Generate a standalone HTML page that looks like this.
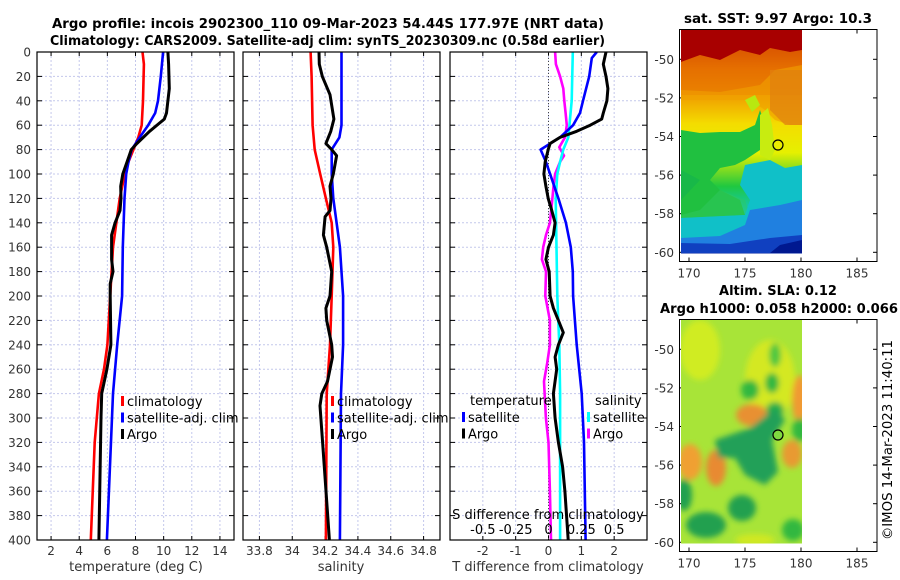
<!DOCTYPE html>
<html><head><meta charset="utf-8"><style>
html,body{margin:0;padding:0;background:#fff}
svg{display:block;font-family:"DejaVu Sans","Liberation Sans",sans-serif}
</style></head><body>
<svg id="s" width="900" height="580" viewBox="0 0 900 580" xmlns="http://www.w3.org/2000/svg">
<defs>
<filter id="blur4" x="-20%" y="-20%" width="140%" height="140%"><feGaussianBlur stdDeviation="3"/></filter>
<clipPath id="clipTop"><rect x="681" y="29.5" width="121" height="224"/></clipPath>
<clipPath id="clipBot"><rect x="681" y="319.5" width="121" height="224"/></clipPath>
<linearGradient id="sstg" x1="0" y1="0" x2="0" y2="1">
<stop offset="0" stop-color="#a80000"/><stop offset="0.1" stop-color="#c01800"/><stop offset="0.18" stop-color="#e06000"/><stop offset="0.3" stop-color="#f0a000"/><stop offset="0.42" stop-color="#f4dc00"/><stop offset="0.55" stop-color="#e6f000"/><stop offset="0.7" stop-color="#20c840"/><stop offset="0.82" stop-color="#10c8c8"/><stop offset="0.92" stop-color="#1070e0"/><stop offset="1" stop-color="#0020a0"/>
</linearGradient>
</defs>
<g font-weight="bold" font-size="13" fill="#000">
<text x="52" y="28" textLength="552" lengthAdjust="spacingAndGlyphs">Argo profile: incois 2902300_110 09-Mar-2023 54.44S 177.97E (NRT data)</text>
<text x="50" y="45" textLength="555" lengthAdjust="spacingAndGlyphs">Climatology: CARS2009. Satellite-adj clim: synTS_20230309.nc (0.58d earlier)</text>
</g>
<g id="plots"></g>
<g>
<text x="778" y="23" text-anchor="middle" font-weight="bold" font-size="13" textLength="188" lengthAdjust="spacingAndGlyphs">sat. SST: 9.97 Argo: 10.3</text>
<g clip-path="url(#clipTop)">
<rect x="681" y="29.5" width="121" height="224" fill="url(#sstg)"/>
<path d="M681 29 H802 V50 L790 52 L770 48 L760 55 L740 50 L720 60 L700 55 L681 62Z" fill="#a80000"/>
<path d="M681 62 L700 55 L720 60 L740 50 L760 55 L770 48 L790 52 L802 50 V95 L681 95Z" fill="#e87800" opacity="0.7"/>
<path d="M681 90 L720 92 L760 85 L775 70 L802 65 V125 L790 125 L775 120 L765 110 L750 100 L681 100Z" fill="#f0a000" opacity="0.6"/>
<path d="M770 70 L802 70 V125 L785 125 L770 110Z" fill="#e08010" opacity="0.7"/>
<path d="M681 130 L700 133 L720 132 L740 132 L755 125 L760 110 L765 125 L760 150 L745 160 L735 165 L720 168 L710 180 L720 190 L740 200 L745 215 L681 218Z" fill="#20c040"/>
<path d="M681 170 L700 180 L681 200Z" fill="#18b848"/>
<path d="M720 190 L745 200 L750 215 L760 220 L740 222 L681 222 V215 L700 210Z" fill="#30c860" opacity="0.5"/>
<path d="M745 165 L770 160 L785 168 L802 165 V253 L681 253 V218 L745 215 L750 200 L740 185Z" fill="#10c0c8"/>
<path d="M750 210 L780 205 L802 200 V253 L681 253 V238 L720 236 L745 225Z" fill="#2080e0"/>
<path d="M681 243 L730 244 L770 238 L802 235 V253 L681 253Z" fill="#1040c0"/>
<path d="M780 245 L802 240 V253 L770 253Z" fill="#001890"/>
<path d="M760 115 L768 108 L772 125 L775 150 L770 160 L760 155Z" fill="#c8ec10"/>
<path d="M745 100 L755 95 L760 105 L752 112Z" fill="#b8e810"/>
</g>
<circle cx="778" cy="145" r="5" fill="none" stroke="#000" stroke-width="1.2"/>
<rect x="679.5" y="29.5" width="197.5" height="232" fill="none" stroke="#000" stroke-width="1"/>
</g>
<g>
<text x="778" y="295" text-anchor="middle" font-weight="bold" font-size="13">Altim. SLA: 0.12</text>
<text x="779" y="313" text-anchor="middle" font-weight="bold" font-size="13" textLength="238" lengthAdjust="spacingAndGlyphs">Argo h1000: 0.058 h2000: 0.066</text>
<g clip-path="url(#clipBot)">
<rect x="681" y="319.5" width="121" height="224" fill="#a8e438"/>
<g filter="url(#blur4)">
<ellipse cx="700" cy="350" rx="20" ry="30" fill="#d0ec20"/>
<ellipse cx="770" cy="380" rx="25" ry="40" fill="#d4e820"/>
<ellipse cx="800" cy="400" rx="8" ry="25" fill="#f09a30"/>
<ellipse cx="752" cy="415" rx="16" ry="11" fill="#e89030"/>
<ellipse cx="792" cy="454" rx="10" ry="14" fill="#e89a30"/>
<ellipse cx="690" cy="462" rx="12" ry="18" fill="#f0a030"/>
<ellipse cx="716" cy="468" rx="10" ry="18" fill="#e88a30"/>
<ellipse cx="775" cy="410" rx="9" ry="8" fill="#28b048"/>
<path d="M715 440 L750 428 L775 408 L785 420 L772 440 L778 472 L765 485 L745 475 L735 458 L718 458Z" fill="#20a058"/>
<ellipse cx="750" cy="390" rx="9" ry="10" fill="#30b840"/>
<ellipse cx="772" cy="383" rx="7" ry="10" fill="#30b840"/>
<ellipse cx="775" cy="355" rx="6" ry="12" fill="#50c840"/>
<ellipse cx="800" cy="430" rx="8" ry="12" fill="#30b840"/>
<ellipse cx="684" cy="495" rx="8" ry="16" fill="#20a050"/>
<ellipse cx="742" cy="508" rx="14" ry="13" fill="#20a050"/>
<ellipse cx="706" cy="525" rx="20" ry="13" fill="#20a050"/>
<ellipse cx="793" cy="530" rx="11" ry="11" fill="#30b840"/>
<ellipse cx="755" cy="540" rx="20" ry="6" fill="#d0e820"/>
</g>
</g>
<circle cx="778" cy="435" r="5" fill="#80d840" stroke="#000" stroke-width="1.2"/>
<rect x="679.5" y="319.5" width="197.5" height="232" fill="none" stroke="#000" stroke-width="1"/>
</g>
<text transform="translate(892,540) rotate(-90)" font-size="13" fill="#000" textLength="200" lengthAdjust="spacingAndGlyphs">©IMOS 14-Mar-2023 11:40:11</text>
</svg>
<script>
const depthTicks=[0,20,40,60,80,100,120,140,160,180,200,220,240,260,280,300,320,340,360,380,400];
const tTicks=[2,4,6,8,10,12,14];
const sTicks=[33.8,34,34.2,34.4,34.6,34.8];
const sTickLabels=["33.8","34","34.2","34.4","34.6","34.8"];
const dTTicks=[-2,-1,0,1,2];
const dSTicks=[-0.5,-0.25,0,0.25,0.5];
const dSTickLabels=["-0.5","-0.25","0","0.25","0.5"];

const tClimDepth=[0,10,40,60,70,80,90,100,120,160,200,240,260,280,320,400];
const tClim=[8.5,8.6,8.53,8.44,8.2,7.85,7.5,7.25,6.88,6.4,6.2,6.0,5.76,5.4,5.1,4.82];
const tSatDepth=[0,20,40,50,60,70,80,90,100,120,160,200,240,260,280,400];
const tSat=[9.96,9.8,9.6,9.4,8.9,8.3,7.73,7.5,7.34,7.22,7.1,7.05,6.7,6.55,6.4,5.97];
const tArgoDepth=[0,10,30,50,55,65,75,80,90,100,110,120,130,140,150,170,180,190,200,240,260,280,300,400];
const tArgo=[10.3,10.35,10.4,10.2,10.05,9.0,8.1,7.7,7.4,7.1,6.95,6.97,6.9,6.55,6.3,6.3,6.4,6.2,6.2,6.25,5.97,5.6,5.55,5.4];

const sClimDepth=[0,20,60,80,100,120,140,160,200,240,280,400];
const sClim=[34.112,34.118,34.124,34.137,34.17,34.205,34.24,34.25,34.24,34.23,34.21,34.205];
const sSatDepth=[0,20,60,70,80,100,120,160,200,240,280,400];
const sSat=[34.30,34.30,34.30,34.287,34.24,34.24,34.25,34.29,34.31,34.31,34.297,34.29];
const sArgoDepth=[0,10,20,35,55,65,75,80,85,100,110,120,130,135,150,160,180,200,210,220,240,250,270,280,290,320,400];
const sArgo=[34.163,34.165,34.183,34.23,34.254,34.235,34.205,34.24,34.27,34.25,34.23,34.236,34.23,34.2,34.19,34.21,34.24,34.23,34.205,34.21,34.24,34.245,34.215,34.18,34.169,34.185,34.226];

const dTSatDepth=[0,5,20,40,50,60,70,80,90,100,120,140,160,180,200,240,280,320,400];
const dTSat=[1.47,1.32,1.24,1.05,0.96,0.75,0.35,-0.24,-0.08,0.05,0.3,0.53,0.68,0.74,0.75,0.86,1.01,1.08,1.13];
const dTArgoDepth=[0,10,20,30,40,50,55,60,65,70,75,80,90,100,110,120,130,140,150,160,170,180,200,210,220,230,240,250,260,280,300,320,340,360,400];
const dTArgo=[1.75,1.67,1.75,1.81,1.78,1.67,1.62,1.27,0.86,0.35,0.05,-0.01,-0.1,-0.14,-0.08,-0.01,0.1,0.2,0.15,0,-0.08,0.02,0.05,0.15,0.3,0.45,0.3,0.2,0.25,0.15,0.2,0.3,0.43,0.5,0.6];
const dSSatDepth=[0,40,55,70,80,90,100,120,200,240,280,400];
const dSSat=[0.185,0.177,0.164,0.151,0.113,0.088,0.067,0.055,0.067,0.082,0.088,0.088];
const dSArgoDepth=[0,10,20,30,40,50,60,70,78,85,90,100,110,120,140,150,160,170,180,200,220,240,255,270,300,320,360,400];
const dSArgo=[0.05,0.056,0.088,0.113,0.12,0.13,0.139,0.126,0.082,0.118,0.088,0.05,0.038,0.03,0.011,-0.019,-0.04,-0.05,-0.019,-0.024,0.011,0.011,-0.01,-0.034,-0.02,0,0.011,0.019];

const latTicks=[-50,-52,-54,-56,-58,-60];
const lonTicks=[170,175,180,185];

const NS="http://www.w3.org/2000/svg";
const root=document.getElementById('plots');
function mk(tag,attrs,parent){const e=document.createElementNS(NS,tag);for(const k in attrs)e.setAttribute(k,attrs[k]);(parent||root).appendChild(e);return e;}
const Y0=52,Y1=540;
function yD(d){return Y0+(d/400)*(Y1-Y0);}
function lin(d0,d1,p0,p1){return v=>p0+(v-d0)/(d1-d0)*(p1-p0);}

const panels=[
 {x0:37,x1:234,dom:[1,15],name:'temperature-panel'},
 {x0:243,x1:440,dom:[33.7,34.9],name:'salinity-panel'},
 {x0:450,x1:647,dom:[-3,3],name:'difference-panel'}
];
panels.forEach(p=>p.sx=lin(p.dom[0],p.dom[1],p.x0,p.x1));
const sxS=lin(-0.75,0.75,450,647);

function drawPanel(p,ticks,labels){
  const g=mk('g',{});
  
  
  ticks.forEach(t=>{const x=p.sx(t);mk('line',{x1:x,x2:x,y1:Y0,y2:Y1,stroke:'#c4c8ec','stroke-width':1,'stroke-dasharray':'2,2'},g);});
  depthTicks.forEach(d=>{const y=yD(d);mk('line',{x1:p.x0,x2:p.x1,y1:y,y2:y,stroke:'#c4c8ec','stroke-width':1,'stroke-dasharray':'2,2'},g);});
  depthTicks.forEach(d=>{const y=yD(d);mk('line',{x1:p.x0,x2:p.x0+5,y1:y,y2:y,stroke:'#000'},g);mk('line',{x1:p.x1-5,x2:p.x1,y1:y,y2:y,stroke:'#000'},g);});
  ticks.forEach((t,i)=>{const x=p.sx(t);
    mk('line',{x1:x,x2:x,y1:Y1,y2:Y1-4,stroke:'#000'},g);mk('line',{x1:x,x2:x,y1:Y0,y2:Y0+4,stroke:'#000'},g);
    const tx=mk('text',{x:x,y:555,'text-anchor':'middle','font-size':12,fill:'#333'},g);tx.textContent=labels[i];
    
    
  });
  return g;
}
function series(p,sx,depths,vals,color,name,w){
  const pts=vals.map((v,i)=>sx(v).toFixed(1)+','+yD(depths[i]).toFixed(1)).join(' ');
  const pl=mk('polyline',{points:pts,fill:'none',stroke:color,'stroke-width':w||2.6,'stroke-linejoin':'round'});
  
  
}
drawPanel(panels[0],tTicks,tTicks.map(String));
drawPanel(panels[1],sTicks,sTickLabels);
drawPanel(panels[2],dTTicks,dTTicks.map(String));
depthTicks.forEach(d=>{const t=mk('text',{x:31,y:yD(d)+4.5,'text-anchor':'end','font-size':12,fill:'#333'});t.textContent=String(d);
  
  
});
mk('line',{x1:panels[2].sx(0),x2:panels[2].sx(0),y1:Y0,y2:Y1,stroke:'#444','stroke-width':1,'stroke-dasharray':'1,2'});

series(panels[0],panels[0].sx,tClimDepth,tClim,'#ff0000','temperature-climatology-line');
series(panels[0],panels[0].sx,tSatDepth,tSat,'#0000ff','temperature-satellite-line');
series(panels[0],panels[0].sx,tArgoDepth,tArgo,'#000','temperature-argo-line',3);
series(panels[1],panels[1].sx,sClimDepth,sClim,'#ff0000','salinity-climatology-line');
series(panels[1],panels[1].sx,sSatDepth,sSat,'#0000ff','salinity-satellite-line');
series(panels[1],panels[1].sx,sArgoDepth,sArgo,'#000','salinity-argo-line',3);
series(panels[2],sxS,dSArgoDepth,dSArgo,'#ff00ff','s-diff-argo-line');
series(panels[2],sxS,dSSatDepth,dSSat,'#00ffff','s-diff-satellite-line');
series(panels[2],panels[2].sx,dTSatDepth,dTSat,'#0000ff','t-diff-satellite-line');
series(panels[2],panels[2].sx,dTArgoDepth,dTArgo,'#000','t-diff-argo-line',3);

panels.forEach(p=>{const r=mk('rect',{x:p.x0,y:Y0,width:p.x1-p.x0,height:Y1-Y0,fill:'none',stroke:'#000','stroke-width':1.2});
  
  
});

function txt(x,y,s,opt,name){const t=mk('text',Object.assign({x:x,y:y,'font-size':13,fill:'#333'},opt||{}));t.textContent=s;
  
  
  return t;}
txt(136,571,'temperature (deg C)',{'text-anchor':'middle'},'x-axis-title-temperature');
txt(341,571,'salinity',{'text-anchor':'middle'},'x-axis-title-salinity');
txt(548,571,'T difference from climatology',{'text-anchor':'middle'},'x-axis-title-t-difference');
txt(548,519,'S difference from climatology',{'text-anchor':'middle',fill:'#000'},'s-axis-title');
dSTicks.forEach((s,i)=>{txt(sxS(s),534,dSTickLabels[i],{'text-anchor':'middle',fill:'#000'},'s-tick-label');});

function legend(x,y,items,name){
  items.forEach((it,i)=>{
    const yy=y+i*16.5;
    const m=mk('rect',{x:x,y:yy-10,width:3,height:10,fill:it[1]});
    
    
    txt(x+6,yy,it[0],{fill:'#000'},name+'-entry');
  });
}
legend(121,406,[['climatology','#ff0000'],['satellite-adj. clim','#0000ff'],['Argo','#000']],'temperature-legend');
legend(331,406,[['climatology','#ff0000'],['satellite-adj. clim','#0000ff'],['Argo','#000']],'salinity-legend');
txt(470,405,'temperature',{fill:'#000'},'diff-legend-temperature-header');
legend(462,422,[['satellite','#0000ff'],['Argo','#000']],'t-diff-legend');
txt(595,405,'salinity',{fill:'#000'},'diff-legend-salinity-header');
legend(587,422,[['satellite','#00ffff'],['Argo','#ff00ff']],'s-diff-legend');

function mapAxes(top,yLat50,yLat60,bottom){
  const ly=lin(-50,-60,yLat50,yLat60), lx=lin(170,180,689,801);
  latTicks.forEach(l=>{const y=ly(l);
    mk('line',{x1:679.5,x2:683.5,y1:y,y2:y,stroke:'#000'});mk('line',{x1:873,x2:877,y1:y,y2:y,stroke:'#000'});
    txt(674,y+4.5,String(l),{'text-anchor':'end','font-size':12},'map-lat-label');
  });
  lonTicks.forEach(l=>{const x=lx(l);
    mk('line',{x1:x,x2:x,y1:bottom,y2:bottom-4,stroke:'#000'});mk('line',{x1:x,x2:x,y1:top,y2:top+4,stroke:'#000'});
    txt(x,bottom+16,String(l),{'text-anchor':'middle','font-size':12},'map-lon-label');
  });
}
mapAxes(29.5,59.3,252.3,261.5);
mapAxes(319.5,349.3,542.3,551.5);
</script>
</body></html>
